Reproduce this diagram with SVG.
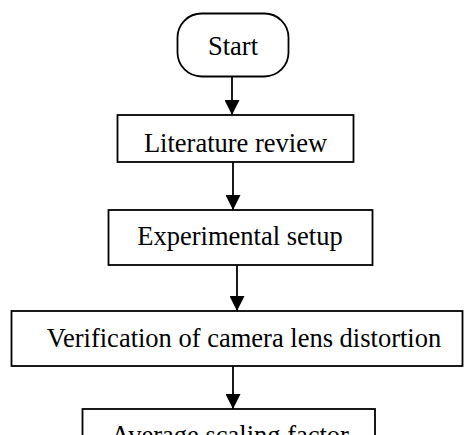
<svg xmlns="http://www.w3.org/2000/svg" width="464" height="435" viewBox="0 0 464 435">
<style>
.box{fill:#fff;stroke:#000;stroke-width:1.8}
.lbl{font-family:"Liberation Serif","Times New Roman",serif;font-size:26.5px;fill:#000;text-anchor:middle}
.edge{stroke:#000;stroke-width:1.8;fill:none}
</style>
<defs>
<marker id="ah" markerUnits="userSpaceOnUse" markerWidth="15" markerHeight="15" refX="15" refY="7.5" orient="auto">
<path d="M0,0 L15,7.5 L0,15 z" fill="#000"/>
</marker>
</defs>
<rect width="464" height="435" fill="#fff"/>
<g id="connectors">
<line class="edge" x1="232" y1="77" x2="232" y2="115" marker-end="url(#ah)"/>
<line class="edge" x1="233" y1="162" x2="233" y2="210" marker-end="url(#ah)"/>
<line class="edge" x1="237" y1="265" x2="237" y2="311" marker-end="url(#ah)"/>
<line class="edge" x1="233" y1="366" x2="233" y2="409" marker-end="url(#ah)"/>
</g>
<g id="start">
<rect class="box" x="177.5" y="13.5" width="111" height="63" rx="24" ry="24"/>
<text class="lbl" x="233" y="55">Start</text>
</g>
<g id="literature">
<rect class="box" x="117.5" y="115" width="236" height="47"/>
<text class="lbl" x="235.5" y="152">Literature review</text>
</g>
<g id="experimental">
<rect class="box" x="108.5" y="210" width="264" height="55"/>
<text class="lbl" x="240" y="245">Experimental setup</text>
</g>
<g id="verification">
<rect class="box" x="11.5" y="311" width="451" height="55"/>
<text class="lbl" x="244" y="347">Verification of camera lens distortion</text>
</g>
<g id="average">
<rect class="box" x="82.5" y="409" width="292.5" height="60"/>
<text class="lbl" x="230" y="444">Average scaling factor</text>
</g>
</svg>
